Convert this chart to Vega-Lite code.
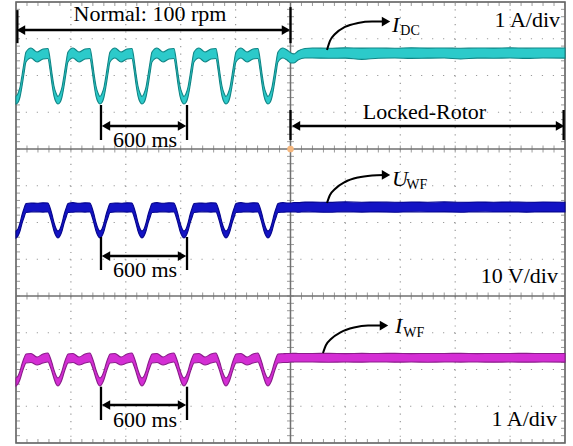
{
 "$schema": "https://vega.github.io/schema/vega-lite/v6.json",
 "width": 549, "height": 441,
 "autosize": "none",
 "padding": {"left": 16, "top": 2, "right": 8, "bottom": 3},
 "background": "white",
 "config": {"view": {"stroke": "#555555", "strokeWidth": 1.5}, "axis": {"disable": true}, "legend": {"disable": true}},
 "datasets": {
  "gridx": [{"v":1},{"v":2},{"v":3},{"v":4},{"v":6},{"v":7},{"v":8},{"v":9}],
  "gridy": [{"v":1},{"v":2},{"v":3},{"v":5},{"v":6},{"v":7},{"v":9},{"v":10},{"v":11}],
  "centerx": [{"v":5}],
  "centery": [{"v":4},{"v":8}],
  "xt": [{"v":[0,0.2,0.4,0.6,0.8,1,1.2,1.4,1.6,1.8,2,2.2,2.4,2.6,2.8,3,3.2,3.4,3.6,3.8,4,4.2,4.4,4.6,4.8,5,5.2,5.4,5.6,5.8,6,6.2,6.4,6.6,6.8,7,7.2,7.4,7.6,7.8,8,8.2,8.4,8.6,8.8,9,9.2,9.4,9.6,9.8,10]}],
  "yt": [{"v":[0,0.2,0.4,0.6,0.8,1,1.2,1.4,1.6,1.8,2,2.2,2.4,2.6,2.8,3,3.2,3.4,3.6,3.8,4,4.2,4.4,4.6,4.8,5,5.2,5.4,5.6,5.8,6,6.2,6.4,6.6,6.8,7,7.2,7.4,7.6,7.8,8,8.2,8.4,8.6,8.8,9,9.2,9.4,9.6,9.8,10,10.2,10.4,10.6,10.8,11,11.2,11.4,11.6,11.8,12]}],
  "wave": [
   {"t":0,"a1":9.429,"b1":9.224,"a2":5.769,"b2":5.578,"a3":1.769,"b3":1.551},
   {"t":0.036,"a1":9.510,"b1":9.265,"a2":5.823,"b2":5.633,"a3":1.823,"b3":1.605},
   {"t":0.073,"a1":9.687,"b1":9.415,"a2":5.986,"b2":5.769,"a3":1.959,"b3":1.728},
   {"t":0.109,"a1":10.000,"b1":9.701,"a2":6.204,"b2":5.973,"a3":2.150,"b3":1.905},
   {"t":0.146,"a1":10.354,"b1":10.054,"a2":6.381,"b2":6.136,"a3":2.313,"b3":2.068},
   {"t":0.182,"a1":10.639,"b1":10.367,"a2":6.517,"b2":6.272,"a3":2.422,"b3":2.177},
   {"t":0.273,"a1":10.748,"b1":10.476,"a2":6.531,"b2":6.286,"a3":2.435,"b3":2.190},
   {"t":0.383,"a1":10.639,"b1":10.367,"a2":6.525,"b2":6.290,"a3":2.340,"b3":2.122},
   {"t":0.492,"a1":10.721,"b1":10.449,"a2":6.535,"b2":6.283,"a3":2.422,"b3":2.177},
   {"t":0.583,"a1":10.735,"b1":10.463,"a2":6.531,"b2":6.286,"a3":2.449,"b3":2.204},
   {"t":0.619,"a1":10.463,"b1":10.163,"a2":6.408,"b2":6.163,"a3":2.340,"b3":2.095},
   {"t":0.656,"a1":10.054,"b1":9.755,"a2":6.218,"b2":5.973,"a3":2.177,"b3":1.932},
   {"t":0.692,"a1":9.714,"b1":9.442,"a2":6.000,"b2":5.769,"a3":1.986,"b3":1.755},
   {"t":0.729,"a1":9.524,"b1":9.279,"a2":5.837,"b2":5.633,"a3":1.837,"b3":1.605},
   {"t":0.765,"a1":9.429,"b1":9.224,"a2":5.769,"b2":5.578,"a3":1.769,"b3":1.551},
   {"t":0.801,"a1":9.510,"b1":9.265,"a2":5.823,"b2":5.633,"a3":1.823,"b3":1.605},
   {"t":0.838,"a1":9.687,"b1":9.415,"a2":5.986,"b2":5.769,"a3":1.959,"b3":1.728},
   {"t":0.874,"a1":10.000,"b1":9.701,"a2":6.204,"b2":5.973,"a3":2.150,"b3":1.905},
   {"t":0.911,"a1":10.354,"b1":10.054,"a2":6.381,"b2":6.136,"a3":2.313,"b3":2.068},
   {"t":0.947,"a1":10.639,"b1":10.367,"a2":6.517,"b2":6.272,"a3":2.422,"b3":2.177},
   {"t":1.038,"a1":10.748,"b1":10.476,"a2":6.540,"b2":6.280,"a3":2.435,"b3":2.190},
   {"t":1.148,"a1":10.639,"b1":10.367,"a2":6.525,"b2":6.290,"a3":2.340,"b3":2.122},
   {"t":1.257,"a1":10.721,"b1":10.449,"a2":6.535,"b2":6.283,"a3":2.422,"b3":2.177},
   {"t":1.348,"a1":10.735,"b1":10.463,"a2":6.531,"b2":6.286,"a3":2.449,"b3":2.204},
   {"t":1.384,"a1":10.463,"b1":10.163,"a2":6.408,"b2":6.163,"a3":2.340,"b3":2.095},
   {"t":1.421,"a1":10.054,"b1":9.755,"a2":6.218,"b2":5.973,"a3":2.177,"b3":1.932},
   {"t":1.457,"a1":9.714,"b1":9.442,"a2":6.000,"b2":5.769,"a3":1.986,"b3":1.755},
   {"t":1.494,"a1":9.524,"b1":9.279,"a2":5.837,"b2":5.633,"a3":1.837,"b3":1.605},
   {"t":1.530,"a1":9.429,"b1":9.224,"a2":5.769,"b2":5.578,"a3":1.769,"b3":1.551},
   {"t":1.566,"a1":9.510,"b1":9.265,"a2":5.823,"b2":5.633,"a3":1.823,"b3":1.605},
   {"t":1.603,"a1":9.687,"b1":9.415,"a2":5.986,"b2":5.769,"a3":1.959,"b3":1.728},
   {"t":1.639,"a1":10.000,"b1":9.701,"a2":6.204,"b2":5.973,"a3":2.150,"b3":1.905},
   {"t":1.676,"a1":10.354,"b1":10.054,"a2":6.381,"b2":6.136,"a3":2.313,"b3":2.068},
   {"t":1.712,"a1":10.639,"b1":10.367,"a2":6.517,"b2":6.272,"a3":2.422,"b3":2.177},
   {"t":1.803,"a1":10.748,"b1":10.476,"a2":6.531,"b2":6.286,"a3":2.435,"b3":2.190},
   {"t":1.913,"a1":10.639,"b1":10.367,"a2":6.525,"b2":6.290,"a3":2.340,"b3":2.122},
   {"t":2.022,"a1":10.721,"b1":10.449,"a2":6.535,"b2":6.283,"a3":2.422,"b3":2.177},
   {"t":2.113,"a1":10.735,"b1":10.463,"a2":6.531,"b2":6.286,"a3":2.449,"b3":2.204},
   {"t":2.149,"a1":10.463,"b1":10.163,"a2":6.408,"b2":6.163,"a3":2.340,"b3":2.095},
   {"t":2.186,"a1":10.054,"b1":9.755,"a2":6.218,"b2":5.973,"a3":2.177,"b3":1.932},
   {"t":2.222,"a1":9.714,"b1":9.442,"a2":6.000,"b2":5.769,"a3":1.986,"b3":1.755},
   {"t":2.259,"a1":9.524,"b1":9.279,"a2":5.837,"b2":5.633,"a3":1.837,"b3":1.605},
   {"t":2.295,"a1":9.429,"b1":9.224,"a2":5.769,"b2":5.578,"a3":1.769,"b3":1.551},
   {"t":2.332,"a1":9.510,"b1":9.265,"a2":5.823,"b2":5.633,"a3":1.823,"b3":1.605},
   {"t":2.368,"a1":9.687,"b1":9.415,"a2":5.986,"b2":5.769,"a3":1.959,"b3":1.728},
   {"t":2.404,"a1":10.000,"b1":9.701,"a2":6.204,"b2":5.973,"a3":2.150,"b3":1.905},
   {"t":2.441,"a1":10.354,"b1":10.054,"a2":6.381,"b2":6.136,"a3":2.313,"b3":2.068},
   {"t":2.477,"a1":10.639,"b1":10.367,"a2":6.517,"b2":6.272,"a3":2.422,"b3":2.177},
   {"t":2.568,"a1":10.748,"b1":10.476,"a2":6.540,"b2":6.280,"a3":2.435,"b3":2.190},
   {"t":2.678,"a1":10.639,"b1":10.367,"a2":6.525,"b2":6.290,"a3":2.340,"b3":2.122},
   {"t":2.787,"a1":10.721,"b1":10.449,"a2":6.535,"b2":6.283,"a3":2.422,"b3":2.177},
   {"t":2.878,"a1":10.735,"b1":10.463,"a2":6.531,"b2":6.286,"a3":2.449,"b3":2.204},
   {"t":2.914,"a1":10.463,"b1":10.163,"a2":6.408,"b2":6.163,"a3":2.340,"b3":2.095},
   {"t":2.951,"a1":10.054,"b1":9.755,"a2":6.218,"b2":5.973,"a3":2.177,"b3":1.932},
   {"t":2.987,"a1":9.714,"b1":9.442,"a2":6.000,"b2":5.769,"a3":1.986,"b3":1.755},
   {"t":3.024,"a1":9.524,"b1":9.279,"a2":5.837,"b2":5.633,"a3":1.837,"b3":1.605},
   {"t":3.060,"a1":9.429,"b1":9.224,"a2":5.769,"b2":5.578,"a3":1.769,"b3":1.551},
   {"t":3.097,"a1":9.510,"b1":9.265,"a2":5.823,"b2":5.633,"a3":1.823,"b3":1.605},
   {"t":3.133,"a1":9.687,"b1":9.415,"a2":5.986,"b2":5.769,"a3":1.959,"b3":1.728},
   {"t":3.169,"a1":10.000,"b1":9.701,"a2":6.204,"b2":5.973,"a3":2.150,"b3":1.905},
   {"t":3.206,"a1":10.354,"b1":10.054,"a2":6.381,"b2":6.136,"a3":2.313,"b3":2.068},
   {"t":3.242,"a1":10.639,"b1":10.367,"a2":6.517,"b2":6.272,"a3":2.422,"b3":2.177},
   {"t":3.333,"a1":10.748,"b1":10.476,"a2":6.531,"b2":6.286,"a3":2.435,"b3":2.190},
   {"t":3.443,"a1":10.639,"b1":10.367,"a2":6.525,"b2":6.290,"a3":2.340,"b3":2.122},
   {"t":3.552,"a1":10.721,"b1":10.449,"a2":6.535,"b2":6.283,"a3":2.422,"b3":2.177},
   {"t":3.643,"a1":10.735,"b1":10.463,"a2":6.531,"b2":6.286,"a3":2.449,"b3":2.204},
   {"t":3.679,"a1":10.463,"b1":10.163,"a2":6.408,"b2":6.163,"a3":2.340,"b3":2.095},
   {"t":3.716,"a1":10.054,"b1":9.755,"a2":6.218,"b2":5.973,"a3":2.177,"b3":1.932},
   {"t":3.752,"a1":9.714,"b1":9.442,"a2":6.000,"b2":5.769,"a3":1.986,"b3":1.755},
   {"t":3.789,"a1":9.524,"b1":9.279,"a2":5.837,"b2":5.633,"a3":1.837,"b3":1.605},
   {"t":3.825,"a1":9.429,"b1":9.224,"a2":5.769,"b2":5.578,"a3":1.769,"b3":1.551},
   {"t":3.862,"a1":9.510,"b1":9.265,"a2":5.823,"b2":5.633,"a3":1.823,"b3":1.605},
   {"t":3.898,"a1":9.687,"b1":9.415,"a2":5.986,"b2":5.769,"a3":1.959,"b3":1.728},
   {"t":3.934,"a1":10.000,"b1":9.701,"a2":6.204,"b2":5.973,"a3":2.150,"b3":1.905},
   {"t":3.971,"a1":10.354,"b1":10.054,"a2":6.381,"b2":6.136,"a3":2.313,"b3":2.068},
   {"t":4.007,"a1":10.639,"b1":10.367,"a2":6.517,"b2":6.272,"a3":2.422,"b3":2.177},
   {"t":4.098,"a1":10.748,"b1":10.476,"a2":6.540,"b2":6.280,"a3":2.435,"b3":2.190},
   {"t":4.208,"a1":10.639,"b1":10.367,"a2":6.525,"b2":6.290,"a3":2.340,"b3":2.122},
   {"t":4.317,"a1":10.721,"b1":10.449,"a2":6.535,"b2":6.283,"a3":2.422,"b3":2.177},
   {"t":4.408,"a1":10.735,"b1":10.463,"a2":6.531,"b2":6.286,"a3":2.449,"b3":2.204},
   {"t":4.444,"a1":10.463,"b1":10.163,"a2":6.408,"b2":6.163,"a3":2.340,"b3":2.095},
   {"t":4.481,"a1":10.054,"b1":9.755,"a2":6.218,"b2":5.973,"a3":2.177,"b3":1.932},
   {"t":4.517,"a1":9.714,"b1":9.442,"a2":6.000,"b2":5.769,"a3":1.986,"b3":1.755},
   {"t":4.554,"a1":9.524,"b1":9.279,"a2":5.837,"b2":5.633,"a3":1.837,"b3":1.605},
   {"t":4.590,"a1":9.429,"b1":9.224,"a2":5.769,"b2":5.578,"a3":1.769,"b3":1.551},
   {"t":4.627,"a1":9.510,"b1":9.265,"a2":5.823,"b2":5.633,"a3":1.823,"b3":1.605},
   {"t":4.663,"a1":9.687,"b1":9.415,"a2":5.986,"b2":5.769,"a3":1.959,"b3":1.728},
   {"t":4.699,"a1":10.000,"b1":9.701,"a2":6.204,"b2":5.973,"a3":2.150,"b3":1.905},
   {"t":4.736,"a1":10.354,"b1":10.054,"a2":6.381,"b2":6.136,"a3":2.313,"b3":2.068},
   {"t":4.772,"a1":10.639,"b1":10.367,"a2":6.517,"b2":6.272,"a3":2.422,"b3":2.177},
   {"t":4.863,"a1":10.748,"b1":10.476,"a2":6.540,"b2":6.280,"a3":2.430,"b3":2.190},
   {"t":4.936,"a1":10.694,"b1":10.422,"a2":6.531,"b2":6.286,"a3":2.435,"b3":2.190},
   {"t":5.009,"a1":10.612,"b1":10.340,"a2":6.531,"b2":6.286,"a3":2.435,"b3":2.204},
   {"t":5.064,"a1":10.585,"b1":10.340,"a2":6.545,"b2":6.290,"a3":2.440,"b3":2.204},
   {"t":5.137,"a1":10.667,"b1":10.422,"a2":6.540,"b2":6.280,"a3":2.435,"b3":2.204},
   {"t":5.264,"a1":10.735,"b1":10.476,"a2":6.555,"b2":6.290,"a3":2.435,"b3":2.204},
   {"t":5.4,"a1":10.748,"b1":10.476,"a2":6.555,"b2":6.286,"a3":2.435,"b3":2.204},
   {"t":5.7,"a1":10.740,"b1":10.468,"a2":6.548,"b2":6.280,"a3":2.440,"b3":2.198},
   {"t":6.0,"a1":10.752,"b1":10.472,"a2":6.560,"b2":6.290,"a3":2.432,"b3":2.204},
   {"t":6.3,"a1":10.745,"b1":10.440,"a2":6.552,"b2":6.283,"a3":2.438,"b3":2.200},
   {"t":6.6,"a1":10.750,"b1":10.470,"a2":6.558,"b2":6.288,"a3":2.435,"b3":2.206},
   {"t":6.9,"a1":10.742,"b1":10.476,"a2":6.550,"b2":6.280,"a3":2.440,"b3":2.200},
   {"t":7.2,"a1":10.752,"b1":10.465,"a2":6.556,"b2":6.290,"a3":2.432,"b3":2.204},
   {"t":7.5,"a1":10.746,"b1":10.472,"a2":6.552,"b2":6.284,"a3":2.437,"b3":2.198},
   {"t":7.8,"a1":10.750,"b1":10.476,"a2":6.560,"b2":6.288,"a3":2.435,"b3":2.204},
   {"t":8.1,"a1":10.740,"b1":10.450,"a2":6.550,"b2":6.280,"a3":2.440,"b3":2.202},
   {"t":8.4,"a1":10.748,"b1":10.474,"a2":6.556,"b2":6.290,"a3":2.433,"b3":2.204},
   {"t":8.7,"a1":10.745,"b1":10.470,"a2":6.552,"b2":6.284,"a3":2.437,"b3":2.200},
   {"t":9.0,"a1":10.752,"b1":10.476,"a2":6.558,"b2":6.288,"a3":2.435,"b3":2.204},
   {"t":9.3,"a1":10.744,"b1":10.466,"a2":6.550,"b2":6.282,"a3":2.440,"b3":2.200},
   {"t":9.6,"a1":10.750,"b1":10.476,"a2":6.556,"b2":6.288,"a3":2.434,"b3":2.204},
   {"t":10.0,"a1":10.748,"b1":10.472,"a2":6.553,"b2":6.285,"a3":2.436,"b3":2.202}
  ],
  "segs": [
   {"x":0.091,"y":11.238,"x2":4.918,"y2":11.238},
   {"x":5.1,"y":8.626,"x2":9.909,"y2":8.626},
   {"x":1.639,"y":8.626,"x2":3.024,"y2":8.626},
   {"x":1.639,"y":5.088,"x2":3.024,"y2":5.088},
   {"x":1.639,"y":1.034,"x2":3.024,"y2":1.034},
   {"x":0.025,"y":11.78,"x2":0.025,"y2":10.88},
   {"x":5.0,"y":11.86,"x2":5.0,"y2":10.88},
   {"x":5.0,"y":9.061,"x2":5.0,"y2":8.245},
   {"x":9.975,"y":9.061,"x2":9.975,"y2":8.245},
   {"x":1.548,"y":9.197,"x2":1.548,"y2":8.245},
   {"x":3.115,"y":9.197,"x2":3.115,"y2":8.245},
   {"x":1.548,"y":5.605,"x2":1.548,"y2":4.707},
   {"x":3.115,"y":5.605,"x2":3.115,"y2":4.707},
   {"x":1.548,"y":1.532,"x2":1.548,"y2":0.626},
   {"x":3.115,"y":1.532,"x2":3.115,"y2":0.626}
  ],
  "heads": [
   {"x":0.091,"y":11.238,"dir":"left"},
   {"x":4.918,"y":11.238,"dir":"right"},
   {"x":5.1,"y":8.626,"dir":"left"},
   {"x":9.909,"y":8.626,"dir":"right"},
   {"x":1.639,"y":8.626,"dir":"left"},
   {"x":3.024,"y":8.626,"dir":"right"},
   {"x":1.639,"y":5.088,"dir":"left"},
   {"x":3.024,"y":5.088,"dir":"right"},
   {"x":1.639,"y":1.034,"dir":"left"},
   {"x":3.024,"y":1.034,"dir":"right"},
   {"x":6.740,"y":11.469,"dir":"right"},
   {"x":6.740,"y":7.293,"dir":"right"},
   {"x":6.703,"y":3.197,"dir":"right"}
  ],
  "curves": [
   {"id":"IDC","x":5.665,"y":10.694},
   {"id":"IDC","x":5.719,"y":10.939},
   {"id":"IDC","x":5.811,"y":11.129},
   {"id":"IDC","x":5.993,"y":11.320},
   {"id":"IDC","x":6.230,"y":11.429},
   {"id":"IDC","x":6.485,"y":11.469},
   {"id":"IDC","x":6.700,"y":11.469},
   {"id":"UWF","x":5.665,"y":6.531},
   {"id":"UWF","x":5.719,"y":6.748},
   {"id":"UWF","x":5.811,"y":6.912},
   {"id":"UWF","x":5.993,"y":7.102},
   {"id":"UWF","x":6.230,"y":7.224},
   {"id":"UWF","x":6.485,"y":7.279},
   {"id":"UWF","x":6.700,"y":7.293},
   {"id":"IWF","x":5.592,"y":2.449},
   {"id":"IWF","x":5.647,"y":2.667},
   {"id":"IWF","x":5.738,"y":2.830},
   {"id":"IWF","x":5.920,"y":3.020},
   {"id":"IWF","x":6.157,"y":3.143},
   {"id":"IWF","x":6.412,"y":3.197},
   {"id":"IWF","x":6.660,"y":3.197}
  ],
  "labels": [
   {"x":2.44,"y":11.48,"text":"Normal: 100 rpm"},
   {"x":2.35,"y":8.054,"text":"600 ms"},
   {"x":2.35,"y":4.517,"text":"600 ms"},
   {"x":2.35,"y":0.444,"text":"600 ms"},
   {"x":7.44,"y":8.816,"text":"Locked-Rotor"}
  ],
  "scales": [
   {"x":9.909,"y":11.32,"text":"1 A/div"},
   {"x":9.872,"y":4.345,"text":"10 V/div"},
   {"x":9.854,"y":0.463,"text":"1 A/div"}
  ],
  "symbols": [
   {"x":6.85,"y":11.184,"text":"I"},
   {"x":6.85,"y":6.993,"text":"U"},
   {"x":6.903,"y":2.985,"text":"I"}
  ],
  "subs": [
   {"x":7.0,"y":11.10,"text":"DC"},
   {"x":7.11,"y":6.903,"text":"WF"},
   {"x":7.055,"y":2.893,"text":"WF"}
  ]
 },
 "layer": [
  {"data":{"name":"gridx"},"mark":{"type":"rule","color":"#9a9a9a","strokeWidth":1.2,"strokeDash":[1.2,6.15]},
   "encoding":{"x":{"field":"v","type":"quantitative","scale":{"domain":[0,10],"nice":false,"zero":false}}}},
  {"data":{"name":"gridy"},"mark":{"type":"rule","color":"#9a9a9a","strokeWidth":1.2,"strokeDash":[1.2,9.78]},
   "encoding":{"y":{"field":"v","type":"quantitative","scale":{"domain":[0,12],"nice":false,"zero":false}}}},
  {"data":{"name":"centerx"},"mark":{"type":"rule","color":"#707070","strokeWidth":1.5},
   "encoding":{"x":{"field":"v","type":"quantitative"}}},
  {"data":{"name":"centery"},"mark":{"type":"rule","color":"#707070","strokeWidth":1.5},
   "encoding":{"y":{"field":"v","type":"quantitative"}}},
  {"data":{"name":"xt"},"transform":[{"flatten":["v"]}],"mark":{"type":"tick","orient":"vertical","size":8,"thickness":1,"color":"#707070","clip":true},
   "encoding":{"x":{"field":"v","type":"quantitative"},"y":{"datum":12,"type":"quantitative"}}},
  {"data":{"name":"xt"},"transform":[{"flatten":["v"]}],"mark":{"type":"tick","orient":"vertical","size":7,"thickness":1,"color":"#707070","clip":true},
   "encoding":{"x":{"field":"v","type":"quantitative"},"y":{"datum":8,"type":"quantitative"}}},
  {"data":{"name":"xt"},"transform":[{"flatten":["v"]}],"mark":{"type":"tick","orient":"vertical","size":7,"thickness":1,"color":"#707070","clip":true},
   "encoding":{"x":{"field":"v","type":"quantitative"},"y":{"datum":4,"type":"quantitative"}}},
  {"data":{"name":"xt"},"transform":[{"flatten":["v"]}],"mark":{"type":"tick","orient":"vertical","size":8,"thickness":1,"color":"#707070","clip":true},
   "encoding":{"x":{"field":"v","type":"quantitative"},"y":{"datum":0,"type":"quantitative"}}},
  {"data":{"name":"yt"},"transform":[{"flatten":["v"]}],"mark":{"type":"tick","orient":"horizontal","size":8,"thickness":1,"color":"#707070","clip":true},
   "encoding":{"y":{"field":"v","type":"quantitative"},"x":{"datum":0,"type":"quantitative"}}},
  {"data":{"name":"yt"},"transform":[{"flatten":["v"]}],"mark":{"type":"tick","orient":"horizontal","size":7,"thickness":1,"color":"#707070","clip":true},
   "encoding":{"y":{"field":"v","type":"quantitative"},"x":{"datum":5,"type":"quantitative"}}},
  {"data":{"name":"yt"},"transform":[{"flatten":["v"]}],"mark":{"type":"tick","orient":"horizontal","size":8,"thickness":1,"color":"#707070","clip":true},
   "encoding":{"y":{"field":"v","type":"quantitative"},"x":{"datum":10,"type":"quantitative"}}},
  {"data":{"name":"wave"},"mark":{"type":"area","interpolate":"monotone","fill":"#2ccaca","stroke":"#0f8585","strokeWidth":1.1},
   "encoding":{"x":{"field":"t","type":"quantitative"},"y":{"field":"a1","type":"quantitative"},"y2":{"field":"b1"}}},
  {"data":{"name":"wave"},"mark":{"type":"area","interpolate":"monotone","fill":"#1313c4","stroke":"#05058c","strokeWidth":1.1},
   "encoding":{"x":{"field":"t","type":"quantitative"},"y":{"field":"a2","type":"quantitative"},"y2":{"field":"b2"}}},
  {"data":{"name":"wave"},"mark":{"type":"area","interpolate":"monotone","fill":"#d42ed4","stroke":"#8a1c8a","strokeWidth":1.1},
   "encoding":{"x":{"field":"t","type":"quantitative"},"y":{"field":"a3","type":"quantitative"},"y2":{"field":"b3"}}},
  {"data":{"values":[{"x":5,"y":8}]},"mark":{"type":"point","filled":true,"color":"#f5b77e","size":45,"opacity":1},
   "encoding":{"x":{"field":"x","type":"quantitative"},"y":{"field":"y","type":"quantitative"}}},
  {"data":{"name":"segs"},"mark":{"type":"rule","color":"black","strokeWidth":2.3},
   "encoding":{"x":{"field":"x","type":"quantitative"},"y":{"field":"y","type":"quantitative"},"x2":{"field":"x2"},"y2":{"field":"y2"}}},
  {"data":{"name":"heads"},"mark":{"type":"point","filled":true,"color":"black","size":95,"opacity":1},
   "encoding":{"x":{"field":"x","type":"quantitative"},"y":{"field":"y","type":"quantitative"},
    "shape":{"field":"dir","type":"nominal","scale":{"domain":["left","right"],"range":["triangle-left","triangle-right"]},"legend":null}}},
  {"data":{"name":"curves"},"mark":{"type":"line","interpolate":"monotone","color":"black","strokeWidth":2},
   "encoding":{"x":{"field":"x","type":"quantitative"},"y":{"field":"y","type":"quantitative"},"detail":{"field":"id","type":"nominal"}}},
  {"data":{"name":"labels"},"mark":{"type":"text","font":"Liberation Serif","fontSize":22,"align":"center","baseline":"alphabetic","color":"black"},
   "encoding":{"x":{"field":"x","type":"quantitative"},"y":{"field":"y","type":"quantitative"},"text":{"field":"text"}}},
  {"data":{"name":"scales"},"mark":{"type":"text","font":"Liberation Serif","fontSize":22,"align":"right","baseline":"alphabetic","color":"black"},
   "encoding":{"x":{"field":"x","type":"quantitative"},"y":{"field":"y","type":"quantitative"},"text":{"field":"text"}}},
  {"data":{"name":"symbols"},"mark":{"type":"text","font":"Liberation Serif","fontSize":22,"fontStyle":"italic","align":"left","baseline":"alphabetic","color":"black"},
   "encoding":{"x":{"field":"x","type":"quantitative"},"y":{"field":"y","type":"quantitative"},"text":{"field":"text"}}},
  {"data":{"name":"subs"},"mark":{"type":"text","font":"Liberation Serif","fontSize":14,"align":"left","baseline":"alphabetic","color":"black"},
   "encoding":{"x":{"field":"x","type":"quantitative"},"y":{"field":"y","type":"quantitative"},"text":{"field":"text"}}}
 ]
}
